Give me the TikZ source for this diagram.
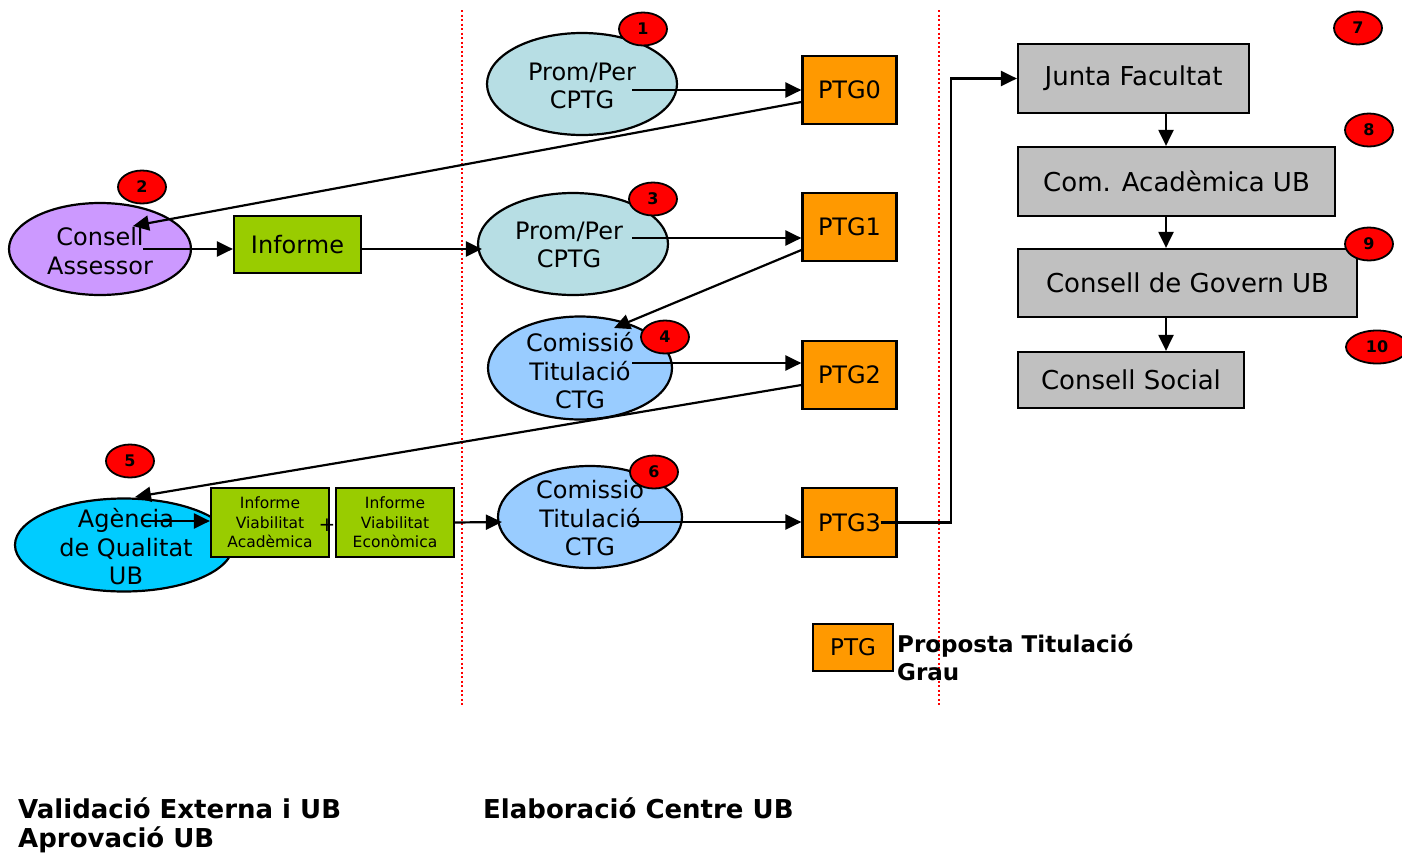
\documentclass[tikz,border=0pt]{standalone}
\usepackage{fontspec}
\setmainfont{DejaVu Sans}
\usetikzlibrary{shapes.geometric,arrows.meta,calc}
\definecolor{tealA}{RGB}{183,222,228}
\definecolor{purpA}{RGB}{204,153,255}
\definecolor{blueA}{RGB}{153,204,255}
\definecolor{cyanA}{RGB}{0,204,255}
\definecolor{greenA}{RGB}{153,204,0}
\definecolor{orangeA}{RGB}{255,153,0}
\definecolor{grayA}{RGB}{192,192,192}
\begin{document}
\begin{tikzpicture}[x=1pt,y=-1pt,
  arr/.style={-{Triangle[length=16pt,width=15pt]}, line width=2.2pt},
  ell/.style={ellipse, draw, line width=2.2pt, inner sep=0pt},
  etext/.style={inner sep=0pt, align=center, font=\fontsize{24}{28.5}\selectfont},
  bx/.style={rectangle, draw, line width=2.2pt, inner sep=0pt, align=center},
  ptgbox/.style={bx, fill=orangeA, minimum width=94pt, minimum height=68pt, font=\fontsize{24}{28}\selectfont},
  graybox/.style={bx, fill=grayA, minimum height=68pt, font=\fontsize{26}{30}\selectfont},
  greenbox/.style={bx, fill=greenA},
  num/.style={ellipse, draw, line width=1.8pt, fill=red, minimum width=48pt, minimum height=33pt, inner sep=0pt, font=\bfseries\fontsize{16}{16}\selectfont},
  reddot/.style={red, line width=1.6pt, dash pattern=on 2pt off 2.5pt},
  bold/.style={inner sep=0pt, align=left, font=\bfseries\fontsize{23}{28}\selectfont},
  bottom/.style={inner sep=0pt, anchor=west, font=\bfseries\fontsize{26}{32}\selectfont}
]
\useasboundingbox[fill=white] (0,0) rectangle (1402,854);

% divider lines
\coordinate (d1a) at (462,10); \coordinate (d1b) at (462,705);
\coordinate (d2a) at (939,10); \coordinate (d2b) at (939,705);
\draw[reddot] (d1a) -- (d1b);
\draw[reddot] (d2a) -- (d2b);

% ellipses
\node[ell, fill=tealA, minimum width=190pt, minimum height=102pt] (e1) at (582,84) {};
\node[etext] (e1t) at (582,86) {Prom/Per\\CPTG};
\node[ell, fill=purpA, minimum width=182pt, minimum height=92pt] (e2) at (100,249) {};
\node[etext] (e2t) at (100,251) {Consell\\Assessor};
\node[ell, fill=tealA, minimum width=190pt, minimum height=102pt] (e3) at (573,244) {};
\node[etext] (e3t) at (569,245) {Prom/Per\\CPTG};
\node[ell, fill=blueA, minimum width=184pt, minimum height=103pt] (e4) at (580,368) {};
\node[etext] (e4t) at (580,371) {Comissió\\Titulació\\CTG};
\node[ell, fill=cyanA, minimum width=218pt, minimum height=93pt] (e5) at (124,545) {};
\node[etext] (e5t) at (126,547) {Agència\\de Qualitat\\UB};
\node[ell, fill=blueA, minimum width=184pt, minimum height=102pt] (e6) at (590,517) {};
\node[etext] (e6t) at (590,518) {Comissió\\Titulació\\CTG};

% PTG boxes
\node[ptgbox] (p0) at (849.5,90) {PTG0};
\node[ptgbox] (p1) at (849.5,227) {PTG1};
\node[ptgbox] (p2) at (849.5,375) {PTG2};
\node[ptgbox, minimum height=69pt] (p3) at (849.5,522.5) {PTG3};

% green boxes
\node[greenbox, minimum width=127pt, minimum height=57pt, font=\fontsize{24}{28}\selectfont] (inf) at (297.5,244.5) {Informe};
\node[greenbox, minimum width=118pt, minimum height=69pt, font=\fontsize{15.5}{19.5}\selectfont] (iva) at (270,522.5) {Informe\\Viabilitat\\Acadèmica};
\node[greenbox, minimum width=118pt, minimum height=69pt, font=\fontsize{15.5}{19.5}\selectfont] (ive) at (395,522.5) {Informe\\Viabilitat\\Econòmica};
\node[inner sep=0pt, font=\fontsize{20}{20}\selectfont] (plus) at (327,525) {+};

% gray boxes
\node[graybox, minimum width=231pt, minimum height=69pt] (jf) at (1133.5,78.5) {Junta Facultat};
\node[graybox, minimum width=317pt, minimum height=69pt] (ca) at (1176.5,181.5) {Com. Acadèmica UB};
\node[graybox, minimum width=339pt] (cg) at (1187.5,283) {Consell de Govern UB};
\node[graybox, minimum width=226pt, minimum height=56pt] (cs) at (1131,380) {Consell Social};

% red numbers
\node[num] (n1) at (643,29) {1};
\node[num] (n2) at (142,187) {2};
\node[num] (n3) at (653,199) {3};
\node[num] (n4) at (665,337) {4};
\node[num] (n5) at (130,461) {5};
\node[num] (n6) at (654,472) {6};
\node[num] (n7) at (1358,28) {7};
\node[num] (n8) at (1369,130) {8};
\node[num] (n9) at (1369,244) {9};
\node[num, minimum width=62pt] (n10) at (1377,347) {10};

% legend
\node[ptgbox, minimum width=80pt, minimum height=47pt, font=\fontsize{23}{27}\selectfont] (lg) at (853,647.5) {PTG};
\node[bold, anchor=north west] (lgt) at (897,634) {Proposta Titulació\\Grau};

% bottom labels
\node[bottom] (v1) at (18,808) {Validació Externa i UB};
\node[bottom] (v2) at (18,840) {Aprovació UB};
\node[bottom] (v3) at (483,808) {Elaboració Centre UB};

% connectors
\coordinate (s1) at (632,90);
\draw[arr] (s1) -- (s1 -| p0.west);
\coordinate (t2) at (133,226);
\draw[arr] ($(p0.west)+(0,12)$) -- (t2);
\coordinate (s2) at (143,249);
\draw[arr] (s2) -- (s2 -| inf.west);
\draw[arr] ($(inf.east)+(0,4.5)$) -- ($(e3.west)+(5,5)$);
\coordinate (s3) at (632,238);
\draw[arr] (s3) -- (s3 -| p1.west);
\coordinate (t4) at (614,328);
\draw[arr] ($(p1.west)+(0,23)$) -- (t4);
\coordinate (s4) at (632,363);
\draw[arr] (s4) -- (s4 -| p2.west);
\coordinate (t5) at (135,497);
\draw[arr] ($(p2.west)+(0,10)$) -- (t5);
\coordinate (s5) at (143,521);
\draw[arr] (s5) -- (s5 -| iva.west);
\draw[arr] (ive.east) -- ($(e6.west)+(5,5)$);
\coordinate (s6) at (632,522);
\draw[arr] (s6) -- (s6 -| p3.west);
\draw[arr] ($(p3.east)+(-17,0)$) -- ++(70,0) |- (jf.west);
\coordinate (col) at (1166,0);
\draw[arr] (jf.south -| col) -- (ca.north -| col);
\draw[arr] (ca.south -| col) -- (cg.north -| col);
\draw[arr] (cg.south -| col) -- (cs.north -| col);
\end{tikzpicture}
\end{document}
